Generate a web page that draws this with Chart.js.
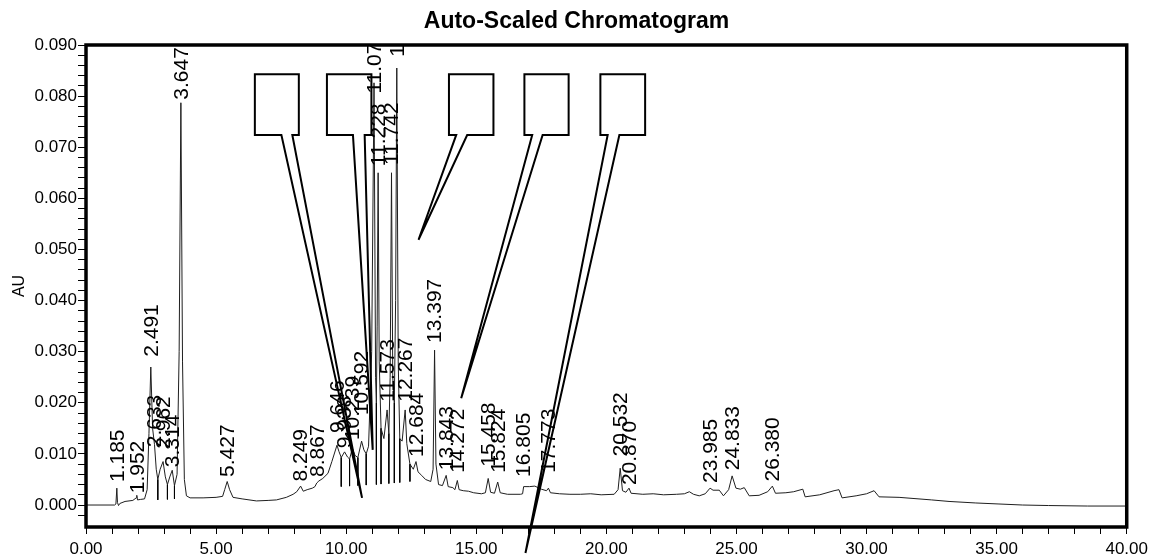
<!DOCTYPE html>
<html>
<head>
<meta charset="utf-8">
<title>Auto-Scaled Chromatogram</title>
<script src="https://cdn.jsdelivr.net/npm/chart.js@4.4.1/dist/chart.umd.min.js"></script>
<style>
  html, body { margin: 0; padding: 0; background: #fff; }
  #wrap { width: 1153px; height: 556px; }
</style>
</head>
<body>
<div id="wrap"><canvas id="chart" width="1153" height="556"></canvas></div>
<script>
// retention time (min) and absorbance (AU)
const traceTime = [
    0.00, 1.10, 1.15, 1.185, 1.21, 1.25, 1.30, 1.50, 1.80, 1.93, 1.952, 1.98, 2.10, 2.25, 2.35, 2.42, 2.491, 2.56, 2.633,
    2.70, 2.76, 2.85, 2.962, 3.05, 3.13, 3.22, 3.314, 3.40, 3.50, 3.58, 3.647, 3.71, 3.78, 3.86, 4.00, 4.50, 5.00,
    5.25, 5.33, 5.427, 5.52, 5.65, 6.00, 6.55, 7.00, 7.32, 7.70, 7.96, 8.10, 8.249, 8.35, 8.50, 8.70, 8.80, 8.867,
    8.95, 9.10, 9.30, 9.45, 9.646, 9.72, 9.81, 9.938, 10.05, 10.13, 10.239, 10.34, 10.45, 10.592, 10.68, 10.77,
    10.86, 10.98, 11.07, 11.13, 11.16, 11.19, 11.228, 11.27, 11.34, 11.45, 11.573, 11.64, 11.69, 11.742, 11.79,
    11.85, 11.90, 11.945, 12.00, 12.06, 12.15, 12.267, 12.33, 12.45, 12.58, 12.684, 12.76, 12.90, 13.05, 13.25,
    13.34, 13.397, 13.45, 13.55, 13.70, 13.843, 13.92, 14.10, 14.18, 14.272, 14.34, 14.50, 14.70, 14.90, 15.20,
    15.35, 15.458, 15.55, 15.70, 15.824, 15.92, 16.20, 16.70, 16.78, 16.82, 17.05, 17.25, 17.50, 17.70, 17.773,
    17.85, 18.20, 18.60, 19.00, 19.40, 19.80, 20.30, 20.45, 20.532, 20.62, 20.75, 20.870, 20.95, 21.40, 21.80,
    22.20, 22.70, 23.00, 23.19, 23.35, 23.57, 23.80, 23.985, 24.10, 24.34, 24.50, 24.70, 24.833, 24.98, 25.15,
    25.30, 25.49, 25.87, 26.20, 26.380, 26.50, 26.90, 27.20, 27.55, 27.64, 28.20, 28.75, 28.94, 29.06, 29.60,
    30.00, 30.29, 30.48, 31.25, 32.50, 33.17, 34.20, 35.09, 36.00, 37.00, 38.50, 40.00
];
const traceAU = [
    0.0000, 0.0000, 0.0002, 0.0033, 0.0005, -0.0001, 0.0003, 0.0007, 0.0009, 0.0014, 0.0019, 0.0010, 0.0011, 0.0012, 0.0030, 0.0140, 0.0270, 0.0150, 0.0118,
    0.0070, 0.0050, 0.0070, 0.0085, 0.0055, 0.0040, 0.0055, 0.0068, 0.0038, 0.0060, 0.0300, 0.0787, 0.0280, 0.0050, 0.0018, 0.0014, 0.0014, 0.0015,
    0.0017, 0.0030, 0.0046, 0.0030, 0.0015, 0.0012, 0.0008, 0.0009, 0.0010, 0.0015, 0.0021, 0.0026, 0.0037, 0.0027, 0.0030, 0.0033, 0.0036, 0.0043,
    0.0047, 0.0052, 0.0062, 0.0085, 0.0117, 0.0105, 0.0093, 0.0104, 0.0094, 0.0090, 0.0111, 0.0097, 0.0093, 0.0125, 0.0108, 0.0100,
    0.0115, 0.0300, 0.0826, 0.0250, 0.0200, 0.0350, 0.0650, 0.0280, 0.0150, 0.0130, 0.0186, 0.0140, 0.0250, 0.0650, 0.0250,
    0.0200, 0.0400, 0.0855, 0.0280, 0.0130, 0.0125, 0.0186, 0.0120, 0.0080, 0.0070, 0.0085, 0.0065, 0.0058, 0.0050, 0.0046,
    0.0070, 0.0303, 0.0080, 0.0040, 0.0038, 0.0058, 0.0036, 0.0034, 0.0030, 0.0048, 0.0030, 0.0028, 0.0027, 0.0024, 0.0022,
    0.0024, 0.0052, 0.0025, 0.0023, 0.0045, 0.0024, 0.0021, 0.0021, 0.0022, 0.0036, 0.0036, 0.0037, 0.0031, 0.0028, 0.0033,
    0.0024, 0.0022, 0.0021, 0.0021, 0.0022, 0.0020, 0.0021, 0.0030, 0.0072, 0.0028, 0.0025, 0.0033, 0.0023, 0.0021, 0.0022,
    0.0020, 0.0021, 0.0022, 0.0026, 0.0021, 0.0018, 0.0022, 0.0033, 0.0029, 0.0029, 0.0018, 0.0030, 0.0057, 0.0033, 0.0031,
    0.0034, 0.0018, 0.0019, 0.0026, 0.0037, 0.0023, 0.0024, 0.0026, 0.0031, 0.0016, 0.0020, 0.0028, 0.0030, 0.0014, 0.0018,
    0.0022, 0.0028, 0.0016, 0.0015, 0.0010, 0.0007, 0.0004, 0.0002, 0.0000, -0.0001, -0.0002, -0.0002
];

// labelled peaks: retention time and the height where the label starts
const peakTimes = [
    1.185, 1.952, 2.491, 2.633, 2.962, 3.314, 3.647, 5.427, 8.249, 8.867, 9.646, 9.938, 10.239, 10.592, 11.070,
    11.228, 11.573, 11.742, 11.945, 12.267, 12.684, 13.397, 13.843, 14.272, 15.458, 15.824, 16.805, 17.773,
    20.532, 20.870, 23.985, 24.833, 26.380
];
const peakLabelAU = [
    0.0045, 0.0023, 0.0290, 0.0113, 0.0110, 0.0074, 0.0793, 0.0055, 0.0046, 0.0055, 0.0141, 0.0111, 0.0127, 0.0176, 0.0805,
    0.0663, 0.0202, 0.0665, 0.0877, 0.0202, 0.0094, 0.0317, 0.0068, 0.0063, 0.0075, 0.0063, 0.0055, 0.0063,
    0.0095, 0.0039, 0.0043, 0.0068, 0.0046
];

// integration drop lines: valley time and baseline under it
const dropTimes = [2.76, 3.13, 3.40, 9.81, 10.13, 10.45, 10.77, 11.16, 11.34, 11.64, 11.85, 12.06, 12.45];
const dropBaseAU = [0.0010, 0.0011, 0.0012, 0.0036, 0.0037, 0.0038, 0.0039, 0.0040, 0.0041, 0.0042, 0.0043, 0.0044, 0.0046];

// empty callout boxes (time / AU units)
const calloutTopAU = 0.0843;
const calloutBottomAU = 0.0724;
const callouts = [
    { from: 6.49, to: 8.18, base: [7.51, 7.93], tip: [10.61, 0.0014] },
    { from: 9.26, to: 10.97, base: [10.26, 10.71], tip: [11.02, 0.0108] },
    { from: 13.95, to: 15.66, base: [14.23, 14.65], tip: [12.78, 0.0519] },
    { from: 16.85, to: 18.55, base: [17.15, 17.55], tip: [14.42, 0.0209] },
    { from: 19.77, to: 21.49, base: [20.05, 20.50], tip: [16.89, -0.0094] }
];

const xTickValues = [];
for (let m = 0; m <= 40; m++) xTickValues.push(m);
const yTickValues = [];
for (let k = -1; k <= 45; k++) yTickValues.push(k * 0.002);

const traceData = traceTime.map((t, i) => ({ x: t, y: traceAU[i] }));
const dropData = [];
dropTimes.forEach((t, i) => {
    let top = traceAU[traceTime.indexOf(t)];
    dropData.push({ x: t, y: top }, { x: t, y: dropBaseAU[i] }, { x: t, y: null });
});

const annotations = {
    id: 'chromAnnotations',
    afterDatasetsDraw(chart) {
        const ctx = chart.ctx;
        const area = chart.chartArea;
        const xs = chart.scales.x;
        const ys = chart.scales.y;

        // peak labels, clipped to the plot frame
        ctx.save();
        ctx.beginPath();
        ctx.rect(area.left, area.top, area.right - area.left, area.bottom - area.top);
        ctx.clip();
        ctx.fillStyle = '#000';
        ctx.font = '21px "Liberation Sans", Arial, sans-serif';
        ctx.textAlign = 'left';
        ctx.textBaseline = 'middle';
        peakTimes.forEach((t, i) => {
            ctx.save();
            ctx.translate(xs.getPixelForValue(t), ys.getPixelForValue(peakLabelAU[i]));
            ctx.rotate(-Math.PI / 2);
            ctx.fillText(t.toFixed(3), 0, 1);
            ctx.restore();
        });
        ctx.restore();

        // callouts
        ctx.save();
        ctx.strokeStyle = '#000';
        ctx.lineWidth = 2;
        ctx.lineJoin = 'miter';
        const T = ys.getPixelForValue(calloutTopAU);
        const B = ys.getPixelForValue(calloutBottomAU);
        callouts.forEach(c => {
            const L = xs.getPixelForValue(c.from);
            const R = xs.getPixelForValue(c.to);
            const b0 = xs.getPixelForValue(c.base[0]);
            const b1 = xs.getPixelForValue(c.base[1]);
            ctx.beginPath();
            ctx.moveTo(b0, B);
            ctx.lineTo(L, B);
            ctx.lineTo(L, T);
            ctx.lineTo(R, T);
            ctx.lineTo(R, B);
            ctx.lineTo(b1, B);
            ctx.lineTo(xs.getPixelForValue(c.tip[0]), ys.getPixelForValue(c.tip[1]));
            ctx.closePath();
            ctx.stroke();
        });
        ctx.restore();

        // heavy plot frame
        ctx.save();
        ctx.strokeStyle = '#000';
        ctx.lineWidth = 3.5;
        ctx.strokeRect(area.left, area.top, area.right - area.left, area.bottom - area.top);
        ctx.restore();
    }
};

new Chart(document.getElementById('chart').getContext('2d'), {
    type: 'line',
    data: {
        datasets: [
            {
                label: 'trace',
                data: traceData,
                borderColor: '#1f1f1f',
                borderWidth: 1,
                pointRadius: 0,
                tension: 0
            },
            {
                label: 'drops',
                data: dropData,
                borderColor: '#000',
                borderWidth: 1,
                pointRadius: 0,
                spanGaps: false
            }
        ]
    },
    options: {
        responsive: false,
        animation: false,
        layout: { padding: 0 },
        plugins: {
            legend: { display: false },
            tooltip: { enabled: false },
            title: {
                display: true,
                text: 'Auto-Scaled Chromatogram',
                color: '#000',
                font: { family: '"Liberation Sans", Arial, sans-serif', size: 23, weight: 'bold', lineHeight: 1.2 },
                padding: { top: 8, bottom: 9.4 }
            }
        },
        scales: {
            x: {
                type: 'linear',
                min: 0,
                max: 40,
                afterBuildTicks: axis => { axis.ticks = xTickValues.map(v => ({ value: v })); },
                afterFit: axis => { axis.height = 29; },
                ticks: {
                    autoSkip: false,
                    maxRotation: 0,
                    padding: 5,
                    color: '#000',
                    font: { family: '"Liberation Sans", Arial, sans-serif', size: 17 },
                    callback: v => (v % 5 === 0 ? v.toFixed(2) : '')
                },
                grid: { drawOnChartArea: false, drawTicks: true, tickLength: 7, color: '#000' },
                border: { display: false }
            },
            y: {
                type: 'linear',
                min: -0.0043,
                max: 0.09,
                afterBuildTicks: axis => { axis.ticks = yTickValues.map(v => ({ value: v })); },
                afterFit: axis => { axis.width = 86; },
                ticks: {
                    autoSkip: false,
                    padding: 1,
                    color: '#000',
                    font: { family: '"Liberation Sans", Arial, sans-serif', size: 17 },
                    callback: v => (Math.round(v * 1000) % 10 === 0 ? v.toFixed(3) : '')
                },
                grid: { drawOnChartArea: false, drawTicks: true, tickLength: 8, color: '#000' },
                border: { display: false },
                title: {
                    display: true,
                    text: 'AU',
                    color: '#000',
                    font: { family: '"Liberation Sans", Arial, sans-serif', size: 16 },
                    padding: { top: 10, bottom: 0 }
                }
            },
            // empty right-hand strip so the frame stops short of the canvas edge
            gutter: {
                type: 'linear',
                position: 'right',
                display: true,
                ticks: { display: false },
                grid: { display: false, drawTicks: false },
                border: { display: false },
                afterFit: axis => { axis.width = 25; }
            }
        }
    },
    plugins: [annotations]
});
</script>
</body>
</html>
